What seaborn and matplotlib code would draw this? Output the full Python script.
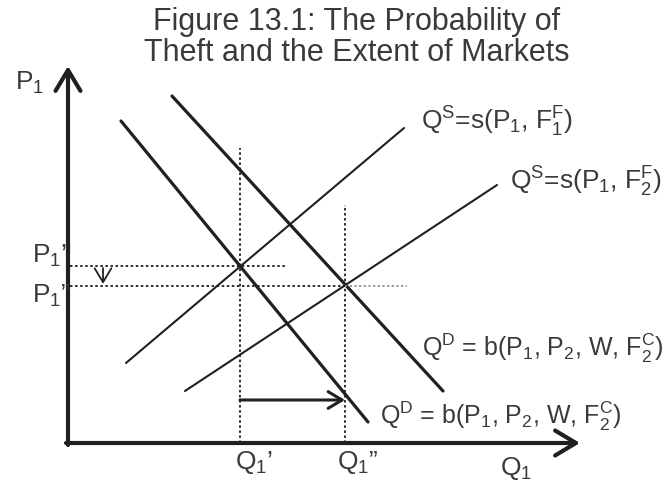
import numpy as np
import pandas as pd
import seaborn as sns
import matplotlib
matplotlib.use("Agg")
import matplotlib.pyplot as plt

# end points of the curves (quantity Q1, price P1), diagram units
d1_q = [5.3, 30.0]
d1_p = [32.2, 2.1]
d2_q = [10.4, 37.5]
d2_p = [34.7, 5.2]
s1_q = [5.8, 33.6]
s1_p = [8.0, 31.5]
s2_q = [11.7, 42.9]
s2_p = [5.2, 25.8]

# equilibria: Q1', Q1''  and  P1', P1''
q_eq = [17.2, 27.7]
p_eq = [17.7, 15.7]
q_guide_top = [29.5, 23.8]
p_guide_end = [21.7, 33.9]

title = "Figure 13.1: The Probability of\nTheft and the Extent of Markets"
s1_label = r"Q$^{S}$=s(P$_{1}$, F$_{1}^{F}$)"
s2_label = r"Q$^{S}$=s(P$_{1}$, F$_{2}^{F}$)"
d_label = r"Q$^{D}$ = b(P$_{1}$, P$_{2}$, W, F$_{2}^{C}$)"

sns.set_theme(style="white")
plt.rcParams["font.family"] = ["Liberation Sans", "DejaVu Sans"]
plt.rcParams["mathtext.fontset"] = "custom"
plt.rcParams["mathtext.rm"] = "Liberation Sans"
plt.rcParams["mathtext.it"] = "Liberation Sans:italic"
plt.rcParams["mathtext.default"] = "regular"

ink = "#231f20"
txt = "#3a3a3a"

fig = plt.figure(figsize=(6.72, 4.82), dpi=100)
ax = fig.add_axes([0, 0, 1, 1])
ax.set_xlim(-6.8, 60.4)
ax.set_ylim(-3.9, 44.3)
ax.axis("off")

# demand and supply curves
for q, p, lw in [(d1_q, d1_p, 2.3), (d2_q, d2_p, 2.3), (s1_q, s1_p, 1.5), (s2_q, s2_p, 1.5)]:
    sns.lineplot(x=q, y=p, color=ink, lw=lw, ax=ax, sort=False)

# dotted guides
dots = (0, (1.4, 1.4))
for q, top in zip(q_eq, q_guide_top):
    ax.plot([q, q], [0, top], color=ink, lw=1.3, ls=dots)
ax.plot([0.2, p_guide_end[0]], [p_eq[0], p_eq[0]], color=ink, lw=1.3, ls=dots)
ax.plot([0.2, q_eq[1]], [p_eq[1], p_eq[1]], color=ink, lw=1.3, ls=dots)
ax.plot([q_eq[1], p_guide_end[1]], [p_eq[1], p_eq[1]], color="#8a8a8a", lw=1.2, ls=dots)

# axes with open arrow heads
ax.annotate("", xy=(0, 37.7), xytext=(0, -0.2),
            arrowprops=dict(arrowstyle="->,head_length=0.75,head_width=0.45",
                            color=ink, lw=3, mutation_scale=20, shrinkA=0, shrinkB=0))
ax.annotate("", xy=(51.2, 0), xytext=(-0.2, 0),
            arrowprops=dict(arrowstyle="->,head_length=0.75,head_width=0.45",
                            color=ink, lw=3, mutation_scale=20, shrinkA=0, shrinkB=0))

# shift arrows
ax.annotate("", xy=(q_eq[1], 4.3), xytext=(q_eq[0], 4.3),
            arrowprops=dict(arrowstyle="->,head_length=0.5,head_width=0.3",
                            color=ink, lw=2.2, mutation_scale=20, shrinkA=0, shrinkB=0))
ax.annotate("", xy=(3.5, p_eq[1] + 0.2), xytext=(3.5, p_eq[0] - 0.2),
            arrowprops=dict(arrowstyle="->,head_length=0.5,head_width=0.3",
                            color=ink, lw=1.3, mutation_scale=20, shrinkA=0, shrinkB=0))

# labels
fs = 19
ax.text(28.9, 43.6, title, ha="center", va="top", fontsize=22, color=txt, linespacing=1.05)
ax.text(-5.3, 35.3, r"P$_1$", fontsize=fs, color=txt, va="baseline")
ax.text(-3.6, 18.0, r"P$_1$’", fontsize=fs, color=txt, va="baseline")
ax.text(-3.6, 14.0, r"P$_1$”", fontsize=fs, color=txt, va="baseline")
ax.text(16.7, -2.6, r"Q$_1$’", fontsize=fs, color=txt, va="baseline")
ax.text(26.9, -2.6, r"Q$_1$”", fontsize=fs, color=txt, va="baseline")
ax.text(43.2, -3.2, r"Q$_1$", fontsize=fs, color=txt, va="baseline")
ax.text(35.3, 31.3, s1_label, fontsize=fs, color=txt, va="baseline")
ax.text(44.2, 25.3, s2_label, fontsize=fs, color=txt, va="baseline")
ax.text(35.4, 8.7, d_label, fontsize=18, color=txt, va="baseline")
ax.text(31.2, 1.9, d_label, fontsize=18, color=txt, va="baseline")

fig.savefig("out.png", dpi=100)
